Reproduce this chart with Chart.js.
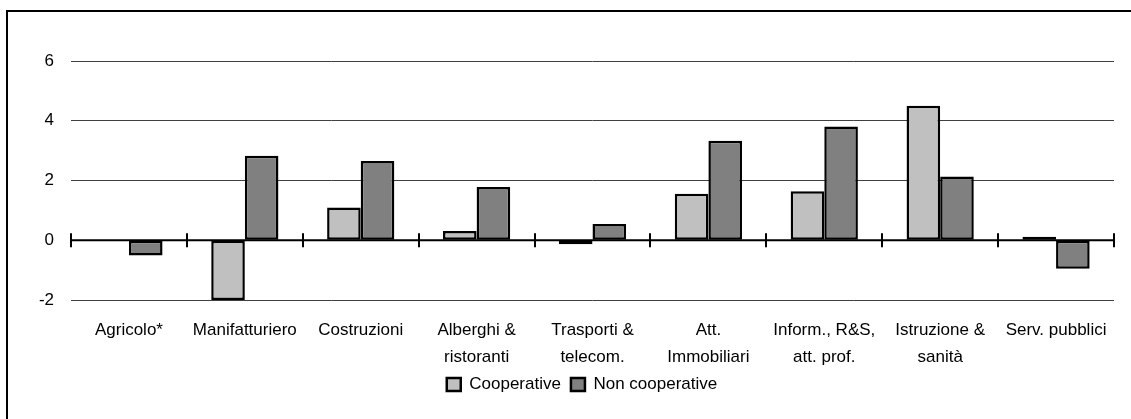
<!DOCTYPE html>
<html>
<head>
<meta charset="utf-8">
<script src="https://cdn.jsdelivr.net/npm/chart.js@4.4.1/dist/chart.umd.min.js"></script>
<style>
    html, body { margin: 0; padding: 0; background: #fff; overflow: hidden; }
    #wrap { position: relative; width: 1131px; height: 419px; }
    #frame {
        position: absolute; left: 6px; top: 10px; right: -10px; bottom: -10px;
        border-left: 2px solid #000; border-top: 2px solid #000;
        pointer-events: none;
    }
</style>
</head>
<body>
<div id="wrap">
    <canvas id="chart" width="1131" height="419"></canvas>
    <div id="frame"></div>
</div>
<script>
    var CATEGORIES = [
        'Agricolo*',
        'Manifatturiero',
        'Costruzioni',
        ['Alberghi &', 'ristoranti'],
        ['Trasporti &', 'telecom.'],
        ['Att.', 'Immobiliari'],
        ['Inform., R&S,', 'att. prof.'],
        ['Istruzione &', 'sanità'],
        'Serv. pubblici'
    ];
    var COOPERATIVE = [null, -2.0, 1.10, 0.31, -0.13, 1.56, 1.64, 4.50, 0.12];
    var NON_COOPERATIVE = [-0.51, 2.83, 2.65, 1.78, 0.54, 3.33, 3.81, 2.13, -0.95];
    var Y_TICKS = [-2, 0, 2, 4, 6];

    Chart.defaults.font.family = "'Liberation Sans', Arial, sans-serif";
    Chart.defaults.font.size = 17;
    Chart.defaults.color = '#000';

    // zero line with category tick marks crossing it
    var zeroAxis = {
        id: 'zeroAxis',
        afterDatasetsDraw: function (ch) {
            var ctx = ch.ctx,
                xs = ch.scales.x,
                ys = ch.scales.y,
                area = ch.chartArea,
                y0 = ys.getPixelForValue(0),
                i, px;

            ctx.save();
            ctx.strokeStyle = '#000';
            ctx.lineWidth = 2;
            ctx.beginPath();
            ctx.moveTo(area.left, y0);
            ctx.lineTo(area.right, y0);
            for (i = 0; i <= CATEGORIES.length; i++) {
                px = Math.round(xs.getPixelForValue(i - 0.5));
                ctx.moveTo(px, y0 - 7);
                ctx.lineTo(px, y0 + 7);
            }
            ctx.stroke();
            ctx.restore();
        }
    };

    // legend sits a bit right of the canvas centre in the original
    var legendShift = {
        id: 'legendShift',
        afterLayout: function (ch) {
            if (ch.legend) {
                ch.legend.left += 18;
                ch.legend.right += 18;
            }
        }
    };

    new Chart(document.getElementById('chart'), {
        type: 'bar',
        data: {
            labels: CATEGORIES,
            datasets: [{
                label: 'Cooperative',
                data: COOPERATIVE,
                backgroundColor: '#c0c0c0',
                borderColor: '#000',
                borderWidth: 2.5,
                borderSkipped: false
            }, {
                label: 'Non cooperative',
                data: NON_COOPERATIVE,
                backgroundColor: '#808080',
                borderColor: '#000',
                borderWidth: 2.5,
                borderSkipped: false
            }]
        },
        options: {
            responsive: false,
            animation: false,
            devicePixelRatio: 1,
            categoryPercentage: 0.58,
            barPercentage: 1,
            layout: {
                padding: {left: 14, right: 17, top: 61, bottom: 16}
            },
            plugins: {
                legend: {
                    position: 'bottom',
                    labels: {boxWidth: 14, boxHeight: 13, padding: 10, color: '#000'}
                },
                tooltip: {enabled: false}
            },
            scales: {
                x: {
                    grid: {display: false, drawTicks: false},
                    border: {display: false},
                    ticks: {
                        padding: 17,
                        autoSkip: false,
                        maxRotation: 0,
                        font: {size: 17, lineHeight: 1.59}
                    },
                    afterFit: function (scale) {
                        scale.height = 66;
                    }
                },
                y: {
                    min: Y_TICKS[0],
                    max: Y_TICKS[Y_TICKS.length - 1],
                    border: {display: false},
                    grid: {
                        drawTicks: false,
                        lineWidth: 1,
                        color: function (c) {
                            return c.tick && c.tick.value === 0 ? 'rgba(0,0,0,0)' : '#404040';
                        }
                    },
                    ticks: {stepSize: 2, padding: 17},
                    afterFit: function (scale) {
                        scale.width = 57;
                    }
                }
            }
        },
        plugins: [zeroAxis, legendShift]
    });
</script>
</body>
</html>
